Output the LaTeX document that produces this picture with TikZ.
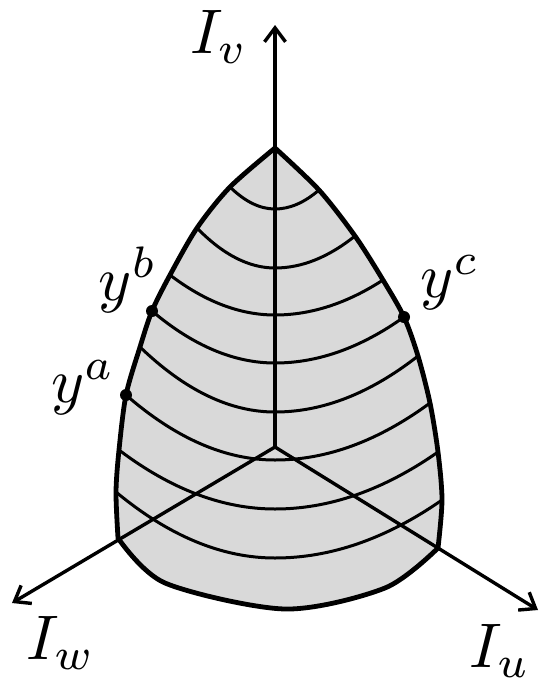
\documentclass[tikz,border=0pt]{standalone}
\usetikzlibrary{arrows.meta}
\newcommand{\levelarc}[5]{%
  \draw[level] (#1,#2) .. controls ({#1+(275-#1)/3},{#2+2*(#3-#2)/3}) and ({275-(275-#1)/3},#3) .. (275,#3)
    .. controls ({275+(#4-275)/3},#3) and ({#4-(#4-275)/3},{#5+2*(#3-#5)/3}) .. (#4,#5);}
\newcommand{\shapepath}{%
  plot[smooth] coordinates {(275,148) (230,187) (197,228) (170,275) (152,311) (140,347) (126,395) (119,450) (116,492) (118,538)}
  -- plot[smooth] coordinates {(118,538) (165,583) (285,609) (385,588) (438,548)}
  -- plot[smooth] coordinates {(438,548) (442,500) (438,452) (430,403) (418,356) (404,317) (383,280) (355,236) (319,190) (275,148)}
  -- cycle}
\begin{document}
\begin{tikzpicture}[x=1pt,y=-1pt,
  boundary/.style={line width=4.8pt, line join=miter},
  level/.style={line width=3pt},
  axis/.style={line width=3.4pt, -{Straight Barb[length=14pt,width=21pt]}},
  lab/.style={inner sep=0pt, scale=6.3}]
\useasboundingbox (0,0) rectangle (541,686);
\coordinate (O) at (275,447);
\coordinate (T) at (275,148);
\coordinate (Tv) at (275,25);
\coordinate (Tw) at (12,603);
\coordinate (Tu) at (538,610);
\fill[black!15] \shapepath;
\levelarc{230}{187}{209}{319}{190}
\levelarc{197}{228}{268}{355}{236}
\levelarc{170}{275}{315}{383}{280}
\levelarc{152}{311}{363}{404}{317}
\levelarc{140}{347}{412}{418}{356}
\levelarc{126}{395}{460}{430}{403}
\levelarc{119}{450}{509}{438}{452}
\levelarc{116}{492}{558}{442}{500}
\draw[boundary] \shapepath;
\draw[axis] (O) -- (Tv);
\draw[axis] (O) -- (Tw);
\draw[axis] (O) -- (Tu);
\fill (152,311) circle (6);
\fill (126,395) circle (6);
\fill (404,317) circle (6);
\node[lab] (Iv) at (219,37) {$I_v$};
\node[lab] (Iw) at (61,643) {$I_w$};
\node[lab] (Iu) at (500,651) {$I_u$};
\node[lab] (yb) at (128,280) {$y^b$};
\node[lab] (ya) at (83,388) {$y^a$};
\node[lab] (yc) at (450,283) {$y^c$};
\end{tikzpicture}
\end{document}
